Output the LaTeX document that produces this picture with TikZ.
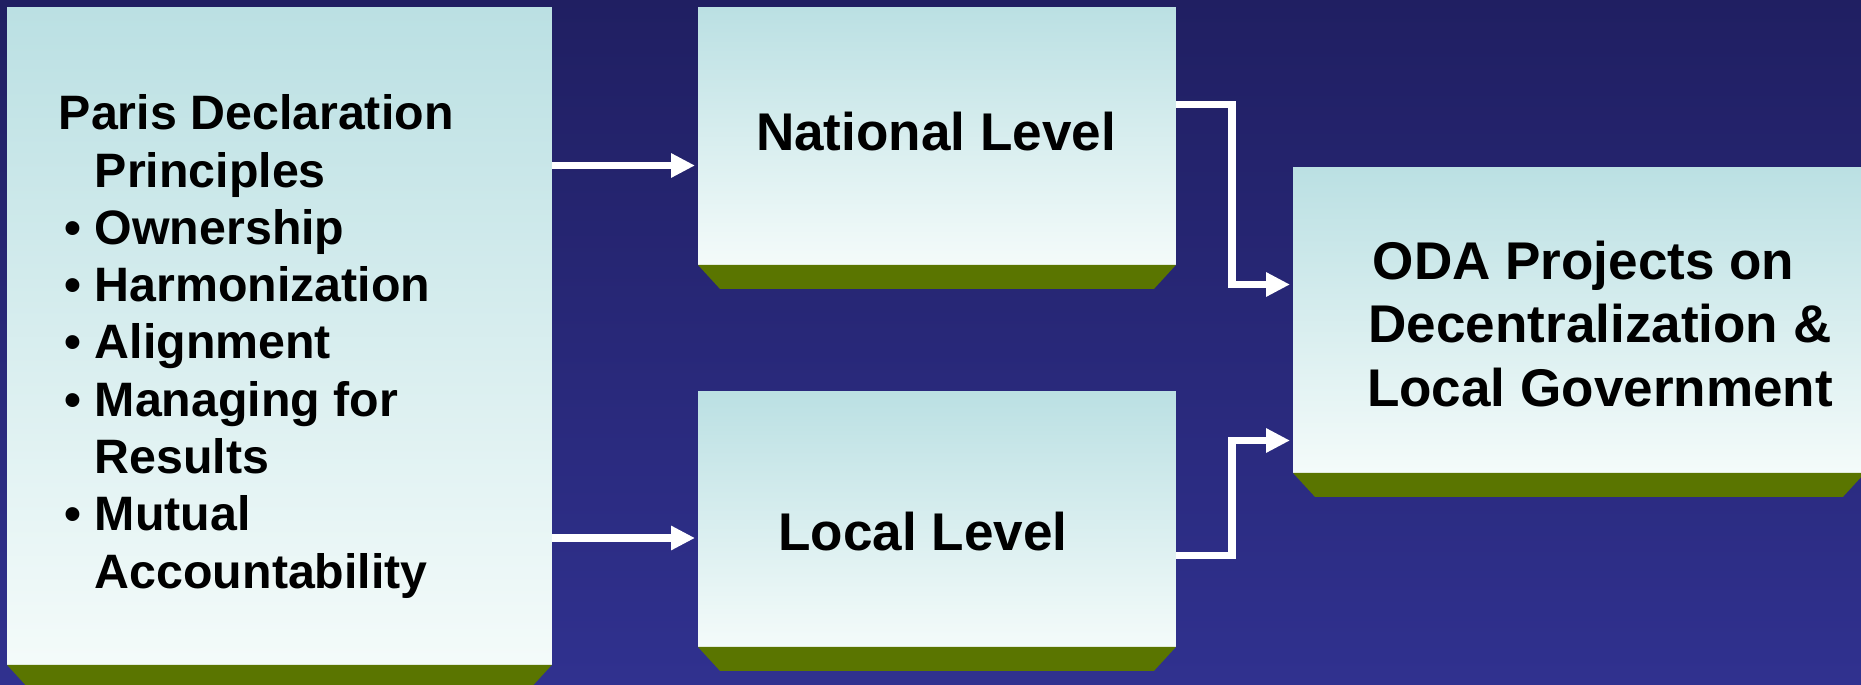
\documentclass[tikz,border=0pt]{standalone}
\usepackage{fontspec}
\setmainfont{Liberation Sans}
\usetikzlibrary{arrows.meta, calc, positioning}
\definecolor{bgtop}{HTML}{201F62}
\definecolor{bgbot}{HTML}{30318F}
\definecolor{boxtop}{HTML}{BBE0E3}
\definecolor{boxbot}{HTML}{F4FBFA}
\definecolor{leafgreen}{HTML}{5A7500}
\tikzstyle{panel} = [rectangle, inner sep=0pt, outer sep=0pt, anchor=north west, top color=boxtop, bottom color=boxbot, draw=none]
\tikzstyle{flow} = [white, line width=0.154cm, line join=miter, -{Triangle[length=0.48cm,width=0.46cm]}, shorten >=0.06cm]
\tikzstyle{lvl} = [inner sep=0pt, anchor=base, font=\bfseries\fontsize{30.2}{36}\selectfont]
\newcommand{\pdbul}{\makebox[0.72cm][l]{\hspace{0.12cm}\textbullet}}

\begin{document}
\begin{tikzpicture}[x=0.02cm, y=-0.02cm]
  % background
  \useasboundingbox (0,0) rectangle (1861,685);
  \shade[top color=bgtop, bottom color=bgbot] (0,0) rectangle (1861,685);
  % boxes
  \node[panel, minimum width=10.9cm, minimum height=13.14cm] (paris) at (7,8) {};
  \node[panel, minimum width=9.56cm, minimum height=5.14cm] (national) at (698,8) {};
  \node[panel, minimum width=9.56cm, minimum height=5.1cm] (local) at (698,392) {};
  \node[panel, minimum width=11.44cm, minimum height=6.1cm] (oda) at (1293,168) {};
  % green ledges under the boxes
  \foreach \b in {paris,national,local,oda}
    \fill[leafgreen] (\b.south west) -- (\b.south east) -- ++(-22,24) -- ($(\b.south west)+(22,24)$) -- cycle;
  % texts (base = last line)
  \node[anchor=base west, inner sep=0pt, align=left, font=\bfseries\fontsize{27.5}{32.6}\selectfont] (paristxt) at (58.5,588)
    {Paris Declaration\\
     \hspace*{0.72cm}Principles\\
     \pdbul Ownership\\
     \pdbul Harmonization\\
     \pdbul Alignment\\
     \pdbul Managing for\\
     \hspace*{0.72cm}Results\\
     \pdbul Mutual\\
     \hspace*{0.72cm}Accountability};
  \node[lvl] (nattxt) at (936,151) {National Level};
  \node[lvl] (loctxt) at (923,550) {Local Level};
  \node[lvl, align=center] (odatxt) at (1600,406)
    {ODA Projects on\hspace*{0.66cm}\\Decentralization \&\\Local Government};
  % arrows
  \coordinate (upbend) at (1232,284.5);
  \coordinate (lowbend) at (1232,440.5);
  \draw[flow] (paris.east |- 0,165.5) -- (national.west |- 0,165.5);
  \draw[flow] (paris.east |- 0,538) -- (local.west |- 0,538);
  \draw[flow] (national.east |- 0,104.5) -| (upbend) -- (oda.west |- upbend);
  \draw[flow] (local.east |- 0,555.5) -| (lowbend) -- (oda.west |- lowbend);
\end{tikzpicture}
\end{document}
